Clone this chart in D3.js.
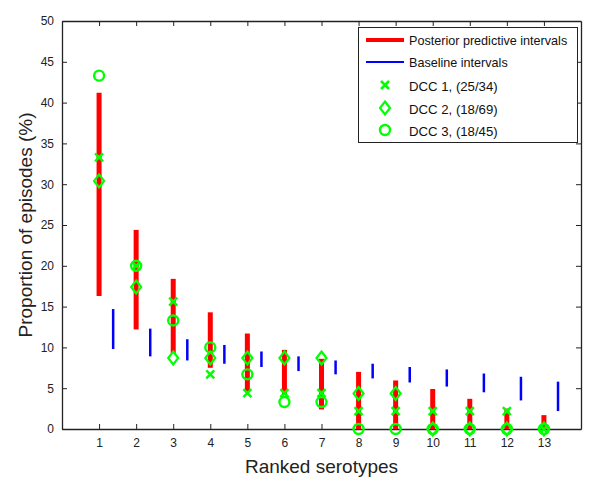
<!DOCTYPE html>
<html><head><meta charset="utf-8">
<script src="https://cdn.jsdelivr.net/npm/d3@7"></script>
<style>body{margin:0;background:#fff}svg{display:block}text{font-family:"Liberation Sans",Arial,sans-serif}</style>
</head><body><svg id="c" width="600" height="498"></svg>
<script>
const serotypes = [1,2,3,4,5,6,7,8,9,10,11,12,13];
const postLow  = [16.3,12.2,9.3,7.5,4.6,4.2,2.4,0,0,0,0,0,0];
const postHigh = [41.2,24.4,18.4,14.3,11.7,9.7,8.6,7.0,5.95,4.9,3.7,2.5,1.7];
const baseLow  = [9.8,8.9,8.4,8.0,7.6,7.1,6.7,6.2,5.7,5.2,4.5,3.5,2.2];
const baseHigh = [14.7,12.3,11.0,10.3,9.5,8.9,8.4,8.0,7.6,7.3,6.8,6.4,5.8];
const dcc1 = [33.3,20.0,15.6,6.7,4.4,4.4,4.4,2.2,2.2,2.2,2.2,2.2,0];
const dcc2 = [30.4,17.4,8.7,8.7,8.7,8.7,8.7,4.35,4.35,0,0,0,0];
const dcc3 = [43.3,20.0,13.3,10.0,6.7,3.3,3.3,0,0,0,0,0,0];
const yTicks = [0,5,10,15,20,25,30,35,40,45,50];
const legendLabels = ["Posterior predictive intervals","Baseline intervals","DCC 1, (25/34)","DCC 2, (18/69)","DCC 3, (18/45)"];

const svg = d3.select("#c");
const L=62, R=581, T=21, B=429;
const x = d3.scaleLinear().domain([0,14]).range([L,R]);
const y = d3.scaleLinear().domain([0,50]).range([B,T]);
const green="#00ff00";

const g = svg.append("g");
g.append("g").attr("transform",`translate(${L},0)`).call(d3.axisLeft(y).tickValues(yTicks).tickSizeInner(-5).tickSizeOuter(0).tickPadding(8));
g.append("g").attr("transform",`translate(${R},0)`).call(d3.axisRight(y).tickValues(yTicks).tickSizeInner(-5).tickSizeOuter(0).tickFormat(""));
g.append("g").attr("transform",`translate(0,${B})`).call(d3.axisBottom(x).tickValues(serotypes).tickSizeInner(-5).tickSizeOuter(0).tickPadding(9));
g.append("g").attr("transform",`translate(0,${T})`).call(d3.axisTop(x).tickValues(serotypes).tickSizeInner(-5).tickSizeOuter(0).tickFormat(""));
g.selectAll(".domain").attr("stroke","#222").attr("stroke-width",1.3);
g.selectAll(".tick line").attr("stroke","#222");
g.selectAll(".tick text").attr("fill","#222").style("font-size","12px").style("font-family","'Liberation Sans',Arial,sans-serif");

svg.append("g").selectAll("line").data(serotypes).join("line")
  .attr("x1",d=>x(d)).attr("x2",d=>x(d))
  .attr("y1",(d,i)=>y(postLow[i])).attr("y2",(d,i)=>y(postHigh[i]))
  .attr("stroke","#ff0000").attr("stroke-width",5);
svg.append("g").selectAll("line").data(serotypes).join("line")
  .attr("x1",d=>x(d+0.38)).attr("x2",d=>x(d+0.38))
  .attr("y1",(d,i)=>y(baseLow[i])).attr("y2",(d,i)=>y(baseHigh[i]))
  .attr("stroke","#0000ff").attr("stroke-width",2.5);

function cross(sel){ sel.append("path").attr("d","M-4,-4L4,4M-4,4L4,-4").attr("stroke",green).attr("stroke-width",2.5).attr("fill","none"); }
function diamond(sel){ sel.append("path").attr("d","M0,-6.5L5,0L0,6.5L-5,0Z").attr("stroke",green).attr("stroke-width",2.2).attr("fill","none"); }
function circle(sel){ sel.append("circle").attr("r",5).attr("stroke",green).attr("stroke-width",2.4).attr("fill","none"); }

cross(svg.append("g").selectAll("g").data(serotypes).join("g").attr("transform",(d,i)=>`translate(${x(d)},${y(dcc1[i])})`));
diamond(svg.append("g").selectAll("g").data(serotypes).join("g").attr("transform",(d,i)=>`translate(${x(d)},${y(dcc2[i])})`));
circle(svg.append("g").selectAll("g").data(serotypes).join("g").attr("transform",(d,i)=>`translate(${x(d)},${y(dcc3[i])})`));

svg.append("text").attr("x",(L+R)/2).attr("y",473).attr("text-anchor","middle").attr("fill","#222").style("font-size","19px").text("Ranked serotypes");
svg.append("text").attr("transform",`translate(32,${(T+B)/2}) rotate(-90)`).attr("text-anchor","middle").attr("fill","#222").style("font-size","19px").text("Proportion of episodes (%)");

const lg = svg.append("g");
lg.append("rect").attr("x",358.5).attr("y",27.5).attr("width",219).attr("height",115).attr("fill","#fff").attr("stroke","#222").attr("stroke-width",1);
const rows=[40,62,85,108,130];
lg.append("line").attr("x1",366).attr("x2",404).attr("y1",rows[0]).attr("y2",rows[0]).attr("stroke","#ff0000").attr("stroke-width",4);
lg.append("line").attr("x1",366).attr("x2",404).attr("y1",rows[1]).attr("y2",rows[1]).attr("stroke","#0000ff").attr("stroke-width",2);
cross(lg.append("g").attr("transform",`translate(385,${rows[2]})`));
diamond(lg.append("g").attr("transform",`translate(385,${rows[3]})`));
circle(lg.append("g").attr("transform",`translate(385,${rows[4]})`));
lg.selectAll("text.lab").data(legendLabels).join("text").attr("class","lab")
  .attr("x",409).attr("y",(d,i)=>rows[i]+(i<2?5:6))
  .attr("fill","#111").style("font-size",(d,i)=>i<2?"12.6px":"13.2px").text(d=>d);
</script></body></html>
